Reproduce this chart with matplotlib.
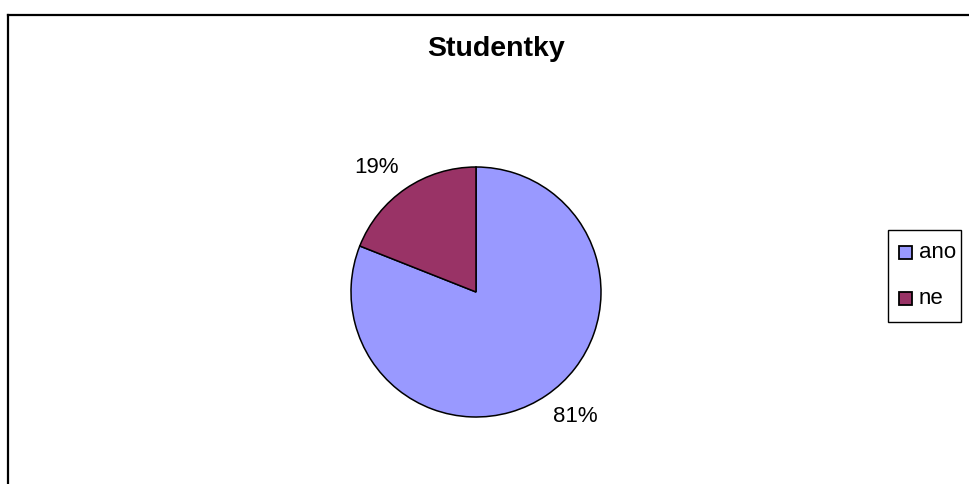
import numpy as np
import matplotlib
matplotlib.use("Agg")
import matplotlib.pyplot as plt
from matplotlib.patches import Rectangle
from matplotlib.lines import Line2D

categories = ["ano", "ne"]
values = [81, 19]
colors = ["#9999FF", "#993366"]
title = "Studentky"

plt.rcParams['font.family'] = ['Liberation Sans', 'DejaVu Sans']

W, H = 969, 484
fig = plt.figure(figsize=(W / 100, H / 100), dpi=100)
fig.patch.set_facecolor("white")


def fx(px):
    return px / W


def fy(py):
    return 1 - py / H


# outer border (top and left visible, rest cut off)
fig.add_artist(Line2D([fx(8), 1.0], [fy(15), fy(15)], transform=fig.transFigure,
                      color="black", lw=1.6))
fig.add_artist(Line2D([fx(8), fx(8)], [0.0, fy(15)], transform=fig.transFigure,
                      color="black", lw=1.6))

cx, cy, r = 476, 292, 125
ax = fig.add_axes([fx(cx - r), fy(cy + r), 2 * r / W, 2 * r / H])
wedges, _ = ax.pie(values, colors=colors, startangle=90, counterclock=False,
                   wedgeprops=dict(edgecolor="black", linewidth=1.1))
ax.set_xlim(-1, 1)
ax.set_ylim(-1, 1)
ax.set_aspect("auto")
ax.axis("off")

total = sum(values)
for w, v in zip(wedges, values):
    mid = np.deg2rad((w.theta1 + w.theta2) / 2)
    x, y = 1.1 * np.cos(mid), 1.1 * np.sin(mid)
    ha = "left" if x > 0 else "right"
    va = "bottom" if y > 0 else "top"
    ax.text(x, y, f"{round(100 * v / total)}%", ha=ha, va=va, fontsize=16,
            clip_on=False)

fig.text(fx(496), fy(49), title, ha="center", va="center",
         fontsize=20.5, fontweight="bold")

# legend box (drawn manually for exact Excel-like layout)
lx0, ly0, lx1, ly1 = 888, 230, 961, 322
fig.add_artist(Rectangle((fx(lx0), fy(ly1)), fx(lx1) - fx(lx0), fy(ly0) - fy(ly1),
                         transform=fig.transFigure, facecolor="white",
                         edgecolor="black", lw=1.0))
row_y = [252.5, 298]
sq = 13
for c, lab, yy in zip(colors, categories, row_y):
    fig.add_artist(Rectangle((fx(898.5), fy(yy + sq / 2)), sq / W, sq / H,
                             transform=fig.transFigure, facecolor=c,
                             edgecolor="black", lw=1.3))
    fig.text(fx(919), fy(yy + 5.8), lab, ha="left", va="baseline", fontsize=16)

fig.savefig("out.png", dpi=100, facecolor="white")
